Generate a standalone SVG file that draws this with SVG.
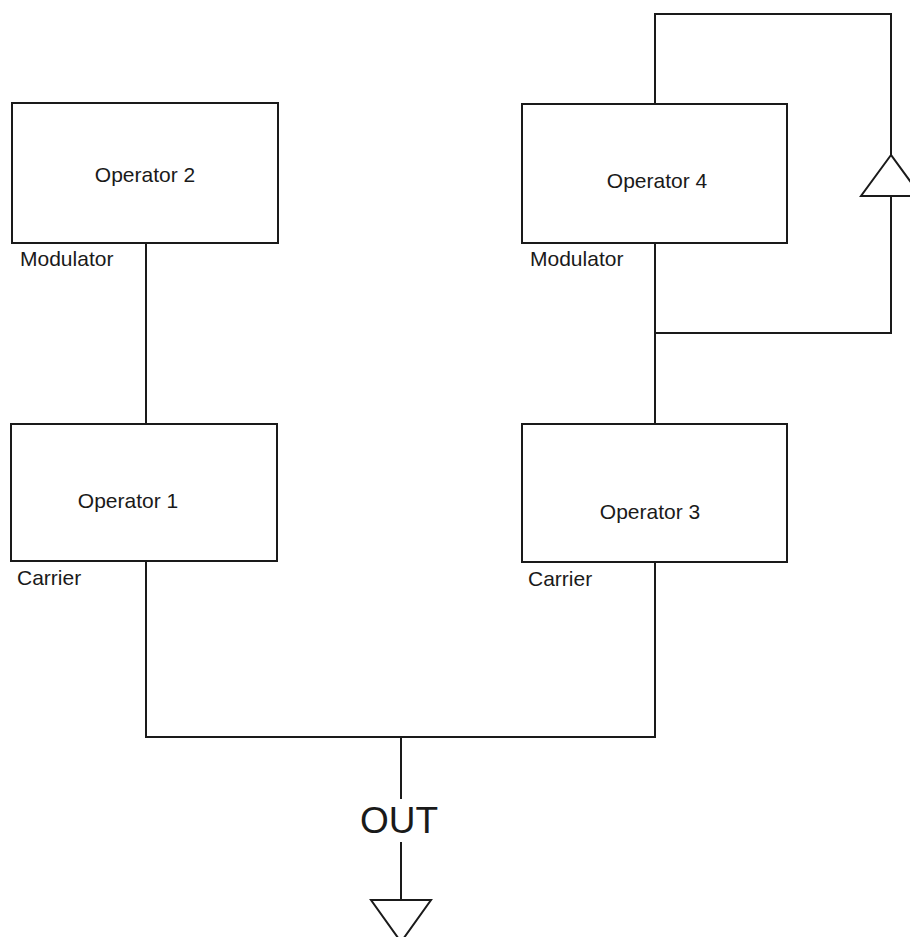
<svg xmlns="http://www.w3.org/2000/svg" width="910" height="937" viewBox="0 0 910 937">
<style>
.box{fill:#fff;stroke:#1a1a1a;stroke-width:2}
.ln{fill:none;stroke:#1a1a1a;stroke-width:2}
.t{font-family:"Liberation Sans",Arial,sans-serif;font-size:21px;fill:#1a1a1a}
.out{font-family:"Liberation Sans",Arial,sans-serif;font-size:37px;fill:#1a1a1a}
</style>
<rect width="910" height="937" fill="#fff"/>
<g id="connectors">
<polyline class="ln" points="146,243 146,424"/>
<polyline class="ln" points="655,104 655,14 891,14 891,155"/>
<polygon class="ln" points="891,155 861,196 921,196"/>
<polyline class="ln" points="891,196 891,333 655,333"/>
<polyline class="ln" points="655,243 655,424"/>
<polyline class="ln" points="146,561 146,737 655,737 655,562"/>
<polyline class="ln" points="401,737 401,799"/>
<polyline class="ln" points="401,842 401,900"/>
<polygon class="ln" points="371,900 431,900 401,942"/>
</g>
<g id="op2">
<rect class="box" x="12" y="103" width="266" height="140"/>
<text class="t" x="145" y="182" text-anchor="middle">Operator 2</text>
<text class="t" x="20" y="266">Modulator</text>
</g>
<g id="op4">
<rect class="box" x="522" y="104" width="265" height="139"/>
<text class="t" x="657" y="188" text-anchor="middle">Operator 4</text>
<text class="t" x="530" y="266">Modulator</text>
</g>
<g id="op1">
<rect class="box" x="11" y="424" width="266" height="137"/>
<text class="t" x="128" y="508" text-anchor="middle">Operator 1</text>
<text class="t" x="17" y="585">Carrier</text>
</g>
<g id="op3">
<rect class="box" x="522" y="424" width="265" height="138"/>
<text class="t" x="650" y="519" text-anchor="middle">Operator 3</text>
<text class="t" x="528" y="586">Carrier</text>
</g>
<g id="out">
<text class="out" x="399" y="833" text-anchor="middle">OUT</text>
</g>
</svg>
